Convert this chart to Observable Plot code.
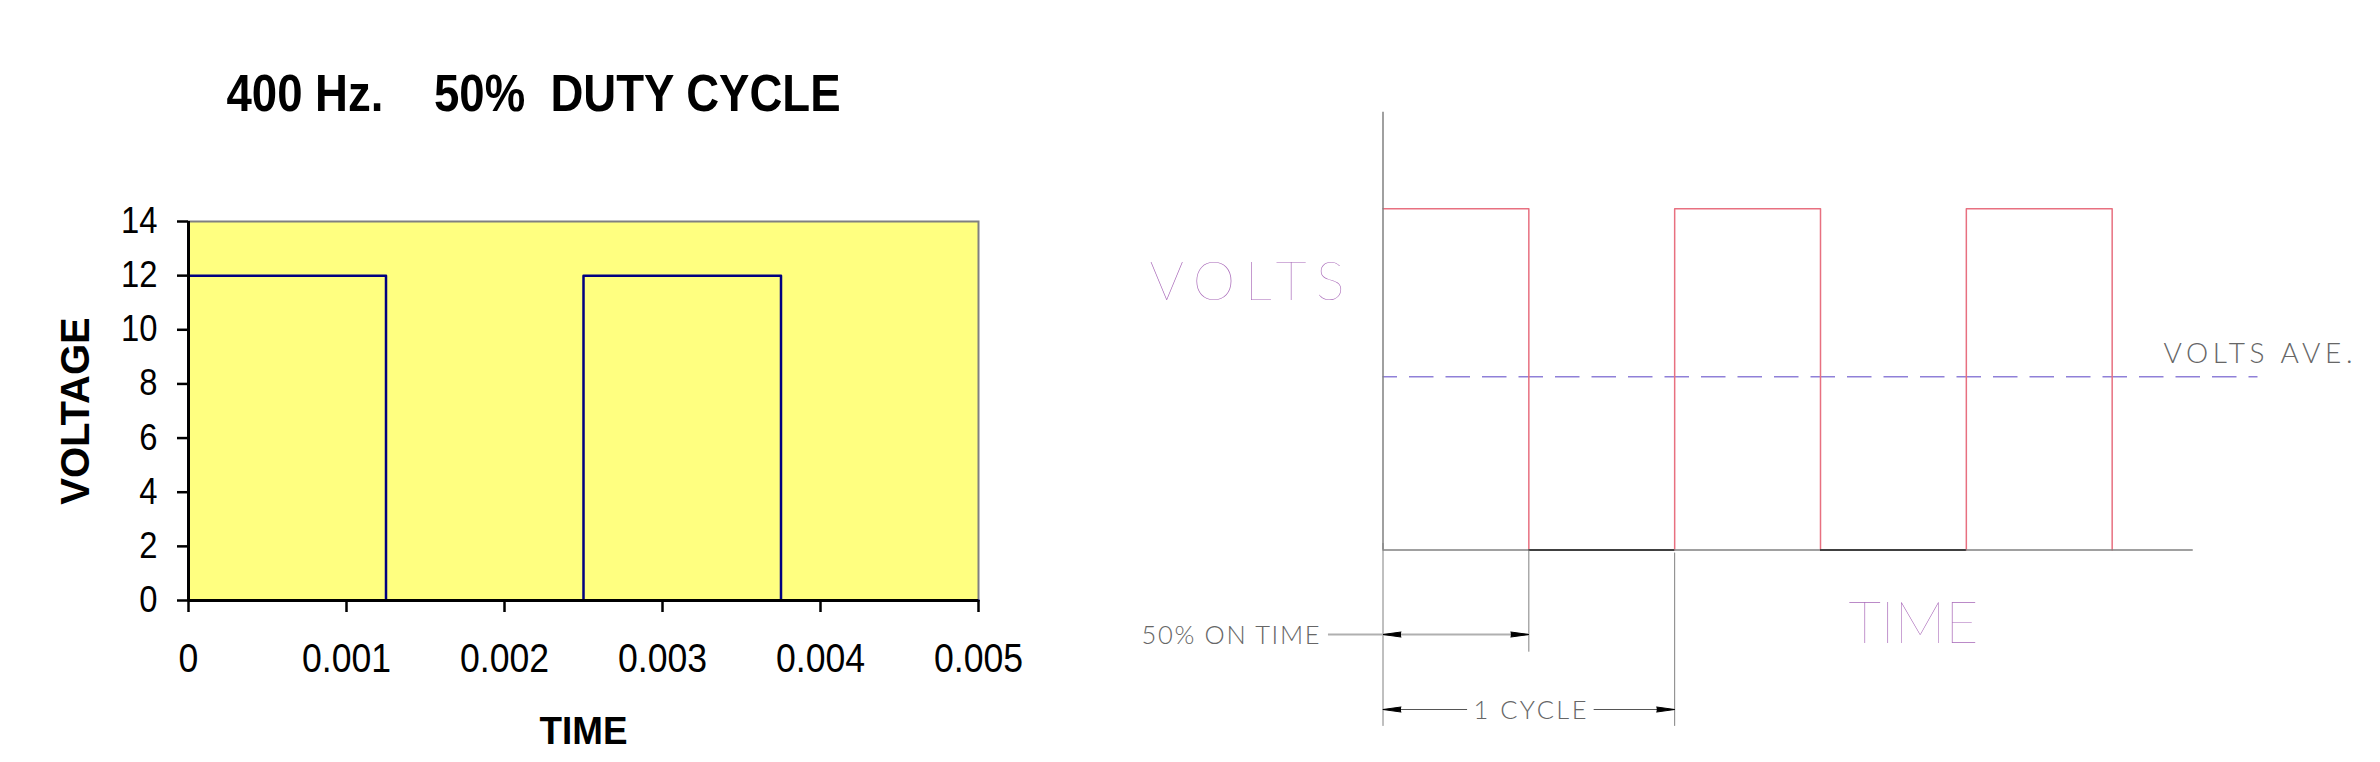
<!DOCTYPE html>
<html><head><meta charset="utf-8">
<script src="https://cdn.jsdelivr.net/npm/d3@7"></script>
<script src="https://cdn.jsdelivr.net/npm/@observablehq/plot@0.6"></script>
<style>
body{margin:0;background:#fff;}
#wrap{position:relative;width:2380px;height:762px;overflow:hidden;background:#fff;}
#left{position:absolute;left:0;top:0;width:1100px;height:762px;}
#right{position:absolute;left:1100px;top:0;width:1280px;height:762px;}
</style></head><body>
<div id="wrap"><div id="left"></div><div id="right"></div></div>
<script>
// ---------- left chart data ----------
const title = "400 Hz.    50%  DUTY CYCLE";
const xTicks = [0, 0.001, 0.002, 0.003, 0.004, 0.005];
const yTicks = [0, 2, 4, 6, 8, 10, 12, 14];
const time = [0, 0.00125, 0.00125, 0.0025, 0.0025, 0.00375, 0.00375, 0.005];
const voltage = [12, 12, 0, 0, 12, 12, 0, 0];

// ---------- right diagram data (time in cycles, volts normalised) ----------
const cycleT = [0, 0.5, 0.5, 1, 1, 1.5, 1.5, 2, 2, 2.5, 2.5];
const cycleV = [1, 1, 0, 0, 1, 1, 0, 0, 1, 1, 0];
const offStart = [0.5, 1.5];
const offEnd = [1, 2];
const voltsAve = 0.508;
const onTime = 0.5;
const oneCycle = 1;

const wave = time.map((t, i) => ({t, v: voltage[i]}));
const fontL = "'Liberation Sans', Arial, Helvetica, sans-serif";

const left = Plot.plot({
  width: 1100, height: 762,
  marginLeft: 188, marginRight: 122, marginTop: 221, marginBottom: 162,
  style: {fontFamily: fontL, background: "white", color: "black", overflow: "visible"},
  x: {domain: [0, 0.005]},
  y: {domain: [0, 14]},
  marks: [
    Plot.frame({fill: "#ffff80", stroke: "#808080", strokeWidth: 2}),
    Plot.line(wave, {x: "t", y: "v", stroke: "#000080", strokeWidth: 2.5}),
    Plot.ruleX([0], {stroke: "black", strokeWidth: 3}),
    Plot.ruleY([0], {stroke: "black", strokeWidth: 3}),
    Plot.axisY(yTicks, {tickSize: 11, tickPadding: 20, fontSize: 36, strokeWidth: 2.5, tickFormat: String, label: null}),
    Plot.axisX(xTicks, {tickSize: 12, tickPadding: 31, fontSize: 40, strokeWidth: 2.5, tickFormat: String, label: null}),
    Plot.text([title], {frameAnchor: "top-left", dx: 38, dy: -111, textAnchor: "start", lineAnchor: "bottom", fontSize: 52, fontWeight: "bold"}),
    Plot.text(["VOLTAGE"], {frameAnchor: "left", dx: -112, rotate: -90, textAnchor: "middle", lineAnchor: "middle", fontSize: 40, fontWeight: "bold"}),
    Plot.text(["TIME"], {frameAnchor: "bottom", dy: 143, lineAnchor: "bottom", fontSize: 39, fontWeight: "bold"})
  ]
});
document.getElementById("left").appendChild(left);

const sq = cycleT.map((t, i) => ({t, v: cycleV[i]}));
const offs = offStart.map((s, i) => ({s, e: offEnd[i]}));
const heads = [
  {t: 0, v: -0.2477, r: -90},
  {t: onTime, v: -0.2477, r: 90},
  {t: 0, v: -0.4675, r: -90},
  {t: oneCycle, v: -0.4675, r: 90}
];
const fontR = "Lato, Inter, Roboto, 'DejaVu Sans', sans-serif";
const purple = "#a868b8";
const grey = "#666666";

const right = Plot.plot({
  width: 1280, height: 762,
  marginLeft: 282.5, marginRight: 122.5, marginTop: 208.3, marginBottom: 212.5,
  style: {fontFamily: fontR, background: "white", overflow: "visible"},
  x: {domain: [0, 3], axis: null},
  y: {domain: [0, 1], axis: null},
  marks: [
    Plot.ruleY([voltsAve], {x1: 0, x2: 3, stroke: "#8f80d8", strokeWidth: 1.5, strokeDasharray: "24.5,12", strokeDashoffset: 10}),
    Plot.line(sq, {x: "t", y: "v", stroke: "#e87080", strokeWidth: 1.5}),
    Plot.ruleX([0], {y1: 0, y2: 1.283, stroke: "#808080", strokeWidth: 1.5}),
    Plot.ruleY([0], {x1: 0, x2: 2.778, stroke: "#808080", strokeWidth: 1.5}),
    Plot.ruleY(offs, {x1: "s", x2: "e", y: 0, stroke: "#404040", strokeWidth: 2}),
    // extension lines
    Plot.ruleX([0], {y1: 0.019, y2: -0.517, stroke: "#808080", strokeWidth: 1}),
    Plot.ruleX([onTime], {y1: 0, y2: -0.2995, stroke: "#808080", strokeWidth: 1}),
    Plot.ruleX([oneCycle], {y1: -0.009, y2: -0.517, stroke: "#808080", strokeWidth: 1}),
    // dimension lines
    Plot.ruleY([-0.2477], {x1: -0.187, x2: onTime, stroke: "#b0b0b0", strokeWidth: 2}),
    Plot.ruleY([-0.4675], {x1: 0, x2: 0.29, stroke: "#555555", strokeWidth: 1}),
    Plot.ruleY([-0.4675], {x1: 0.724, x2: oneCycle, stroke: "#555555", strokeWidth: 1}),
    Plot.vector(heads, {x: "t", y: "v", rotate: "r", length: 18, r: 2.5, shape: "spike", anchor: "end", fill: "black", stroke: "black", strokeWidth: 1}),
    // labels
    Plot.text(["VOLTS"], {x: -0.8006, y: 0.7333, textAnchor: "start", lineAnchor: "bottom", fontSize: 54, fontWeight: 200, fill: purple}),
    Plot.text(["VOLTS AVE."], {x: 2.676, y: 0.5495, textAnchor: "start", lineAnchor: "bottom", fontSize: 28, fontWeight: 300, fill: grey}),
    Plot.text(["TIME"], {x: 1.596, y: -0.274, textAnchor: "start", lineAnchor: "bottom", fontSize: 57, fontWeight: 200, fill: purple}),
    Plot.text(["50% ON TIME"], {x: -0.828, y: -0.2749, textAnchor: "start", lineAnchor: "bottom", fontSize: 25.5, fontWeight: 300, fill: grey}),
    Plot.text(["1 CYCLE"], {x: 0.3103, y: -0.4947, textAnchor: "start", lineAnchor: "bottom", fontSize: 25.5, fontWeight: 300, fill: grey})
  ]
});
document.getElementById("right").appendChild(right);

function fit(svg, map, adjust) {
  d3.select(svg).selectAll("text").each(function () {
    const t = this.textContent;
    if (map[t] && this.children.length === 0) {
      this.setAttribute("textLength", map[t]);
      this.setAttribute("lengthAdjust", adjust);
      this.style.whiteSpace = "pre";
    }
  });
}
function squeeze(svg, selector, factor) {
  d3.select(svg).selectAll(selector).each(function () {
    const w = this.getComputedTextLength();
    this.setAttribute("textLength", w * factor);
    this.setAttribute("lengthAdjust", "spacingAndGlyphs");
  });
}
fit(left, {[title]: 614, "TIME": 88}, "spacingAndGlyphs");
squeeze(left, 'g[aria-label="y-axis tick label"] text', 0.91);
squeeze(left, 'g[aria-label="x-axis tick label"] text', 0.89);
fit(right, {"VOLTS": 195, "VOLTS AVE.": 189, "TIME": 130, "50% ON TIME": 178, "1 CYCLE": 113}, "spacing");
</script>
</body></html>
